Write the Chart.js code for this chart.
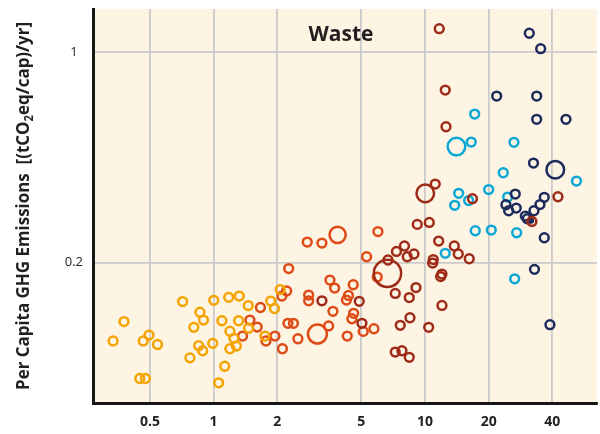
<!DOCTYPE html>
<html lang="en">
<head>
  <meta charset="UTF-8" />
  <title>Waste</title>
  <script src="https://cdn.jsdelivr.net/npm/chart.js"></script>
  <style>
    html, body { margin: 0; padding: 0; background: #fff; }
  </style>
</head>
<body>
  <canvas id="wasteChart" width="600" height="434"></canvas>

  <script>
    // Axis ticks (log scales)
    const xTicks = [0.5, 1, 2, 5, 10, 20, 40];
    const yTicks = [0.2, 1];

    // Per capita income (x) vs per capita waste emissions (y), one pair of arrays per group.
    // Size is relative bubble size (1 = normal marker)
    const yellowGdp = [0.335, 0.377, 0.448, 0.476, 0.465, 0.495, 0.543, 0.714, 0.773, 0.807, 0.850, 0.862, 0.888, 0.896, 0.991, 1.002,
      1.057, 1.095, 1.129, 1.179, 1.195, 1.195, 1.248, 1.283, 1.314, 1.323, 1.459, 1.465, 1.75, 1.864, 1.941, 2.067];
    const yellowEmis = [0.110, 0.1275, 0.0825, 0.0825, 0.110, 0.115, 0.107, 0.1486, 0.0966, 0.122, 0.106, 0.137, 0.102, 0.129, 0.108, 0.150,
      0.0798, 0.1283, 0.0906, 0.1535, 0.1184, 0.1036, 0.1122, 0.1057, 0.1283, 0.155, 0.1441, 0.1212, 0.1141, 0.1492, 0.1409, 0.1629];
    const yellowSize = [1, 1, 1, 1, 1, 1, 1, 1, 1, 1, 1, 1, 1, 1, 1, 1, 1, 1, 1, 1, 1, 1, 1, 1, 1, 1, 1, 1, 1, 1, 1, 1];

    const orangeGdp = [1.372, 1.486, 1.609, 1.666, 1.769, 1.951, 2.117, 2.105, 2.216, 2.266, 2.248, 2.387, 2.506, 2.774, 3.255, 3.862, 2.817,
      2.817, 3.099, 3.501, 3.552, 3.738, 3.67, 4.289, 4.345, 4.251, 4.578, 4.598, 4.513, 5.104, 5.735, 5.295, 5.991, 5.945];
    const orangeEmis = [0.1141, 0.129, 0.1223, 0.142, 0.1099, 0.1141, 0.1036, 0.155, 0.1611, 0.1913, 0.1258, 0.1258, 0.1118, 0.2343, 0.2325,
      0.2477, 0.1562, 0.1495, 0.1159, 0.1233, 0.1752, 0.1648, 0.1379, 0.1141, 0.1558, 0.1503, 0.169, 0.1358, 0.1303, 0.1183, 0.1207, 0.2094,
      0.2539, 0.1792];
    const orangeSize = [1, 1, 1, 1, 1, 1, 1, 1, 1, 1, 1, 1, 1, 1, 1, 1.85, 1, 1, 2.15, 1, 1, 1, 1, 1, 1, 1, 1, 1, 1, 1, 1, 1, 1, 1];

    const redGdp = [3.255, 4.887, 5.032, 6.681, 6.646, 7.234, 7.328, 7.996, 8.244, 8.869, 8.426, 9.066, 8.49, 7.638, 10.41, 7.234, 7.78,
      8.426, 9.194, 10.48, 11.61, 10.94, 10.87, 12.03, 11.86, 12.03, 13.76, 14.37, 16.19, 10.03, 11.18, 16.77, 42.56, 32.06, 11.68, 12.47, 12.57];
    const redEmis = [0.1495, 0.1489, 0.1258, 0.2042, 0.1844, 0.1582, 0.218, 0.2273, 0.2094, 0.2138, 0.1532, 0.1654, 0.1313, 0.1239, 0.122,
      0.101, 0.102, 0.097, 0.2682, 0.2723, 0.236, 0.2049, 0.1995, 0.1834, 0.1799, 0.1443, 0.2273, 0.2138, 0.2062, 0.34, 0.3651, 0.3263,
      0.3313, 0.2744, 1.198, 0.7494, 0.5659];
    const redSize = [1, 1, 1, 1, 3.1, 1, 1, 1, 1, 1, 1, 1, 1, 1, 1, 1, 1, 1, 1, 1, 1, 1, 1, 1, 1, 1, 1, 1, 1, 2.0, 1, 1, 1, 1, 1, 1, 1];

    const cyanGdp = [17.18, 14.09, 16.55, 26.35, 23.45, 52.06, 20.01, 14.43, 13.82, 16.09, 24.6, 17.29, 20.59, 27.14, 12.47, 26.55];
    const cyanEmis = [0.6237, 0.4864, 0.5035, 0.5023, 0.3981, 0.3736, 0.35, 0.34, 0.3102, 0.3218, 0.3305, 0.2554, 0.2568, 0.2516, 0.2149, 0.1769];
    const cyanSize = [1, 2.0, 1, 1, 1, 1, 1, 1, 1, 1, 1, 1, 1, 1, 1, 1];

    const navyGdp = [31.14, 35.25, 21.83, 33.75, 33.75, 46.43, 32.59, 41.33, 26.73, 36.66, 24.15, 27.02, 24.87, 34.98, 32.77, 29.82, 30.48,
      31.73, 36.66, 32.95, 39.0];
    const navyEmis = [1.157, 1.028, 0.7157, 0.7157, 0.5989, 0.5989, 0.4287, 0.4074, 0.3382, 0.3298, 0.3116, 0.3039, 0.2977, 0.3121, 0.2977,
      0.2858, 0.28, 0.2761, 0.2421, 0.1901, 0.1245];
    const navySize = [1, 1, 1, 1, 1, 1, 1, 2.0, 1, 1, 1, 1, 1, 1, 1, 1, 1, 0.45, 1, 1, 1];

    const panelTitle = 'Waste';
    const yTitle = ['Per Capita GHG Emissions  [(tCO', '2', 'eq/cap)/yr]'];

    const BASE_R = 4.4;
    const FONT = '"Open Sans", "Noto Sans", sans-serif';

    function bubbles(xs, ys, sizes) {
      return xs.map((x, i) => ({ x: x, y: ys[i], r: BASE_R * sizes[i] }));
    }

    function series(label, xs, ys, sizes, color) {
      return {
        label: label,
        data: bubbles(xs, ys, sizes),
        borderColor: color,
        backgroundColor: 'rgba(0,0,0,0)',
        borderWidth: 2.5
      };
    }

    // cream panel behind the grid
    const panelBg = {
      id: 'panelBg',
      beforeDraw(chart) {
        const { ctx, chartArea: a } = chart;
        ctx.save();
        ctx.fillStyle = '#fdf4e3';
        ctx.fillRect(a.left, a.top, a.right - a.left, a.bottom - a.top);
        ctx.restore();
      }
    };

    // panel name and rotated y title (with subscript 2)
    const labels = {
      id: 'labels',
      afterDraw(chart) {
        const { ctx, chartArea: a } = chart;
        ctx.save();
        ctx.fillStyle = '#231f20';
        ctx.textAlign = 'center';
        ctx.textBaseline = 'alphabetic';
        ctx.font = 'bold 21px ' + FONT;
        ctx.fillText(panelTitle, 341, 41);
        ctx.restore();

        const big = 'bold 18px ' + FONT, small = 'bold 12px ' + FONT;
        ctx.save();
        ctx.font = big;
        const w1 = ctx.measureText(yTitle[0]).width;
        const w3 = ctx.measureText(yTitle[2]).width;
        ctx.font = small;
        const w2 = ctx.measureText(yTitle[1]).width;
        const total = w1 + w2 + w3;
        const sx = Math.min(1, 368 / total);
        ctx.translate(29, (a.top + a.bottom) / 2);
        ctx.rotate(-Math.PI / 2);
        ctx.scale(sx, 1);
        ctx.fillStyle = '#231f20';
        ctx.textAlign = 'left';
        ctx.textBaseline = 'alphabetic';
        let x = -total / 2;
        ctx.font = big; ctx.fillText(yTitle[0], x, 0); x += w1;
        ctx.font = small; ctx.fillText(yTitle[1], x, 4); x += w2;
        ctx.font = big; ctx.fillText(yTitle[2], x, 0);
        ctx.restore();
      }
    };

    const ctx = document.getElementById('wasteChart').getContext('2d');
    new Chart(ctx, {
      type: 'bubble',
      data: {
        datasets: [
          series('Yellow', yellowGdp, yellowEmis, yellowSize, '#f5a300'),
          series('Dark red', redGdp, redEmis, redSize, '#9e2a17'),
          series('Navy', navyGdp, navyEmis, navySize, '#1d2b5c'),
          series('Cyan', cyanGdp, cyanEmis, cyanSize, '#08a7d6'),
          series('Orange', orangeGdp, orangeEmis, orangeSize, '#de4b16')
        ]
      },
      options: {
        responsive: false,
        animation: false,
        layout: { autoPadding: false, padding: { top: 9, right: 3, left: 0, bottom: 0 } },
        plugins: {
          legend: { display: false },
          tooltip: { enabled: false }
        },
        scales: {
          x: {
            type: 'logarithmic',
            min: 0.269,
            max: 65.1,
            afterBuildTicks: s => { s.ticks = xTicks.map(v => ({ value: v })); },
            afterFit: s => {
              s.height = 31;
              s.paddingLeft = 0; s.paddingRight = 0; s.paddingTop = 0; s.paddingBottom = 0;
            },
            grid: { color: '#cbcbcb', lineWidth: 1.8, drawTicks: false },
            border: { display: true, color: '#161616', width: 3 },
            ticks: {
              padding: 11,
              color: '#231f20',
              font: { family: FONT, size: 14, weight: 'bold' },
              callback: v => String(v)
            }
          },
          y: {
            type: 'logarithmic',
            min: 0.0684,
            max: 1.393,
            afterBuildTicks: s => { s.ticks = yTicks.map(v => ({ value: v })); },
            afterFit: s => {
              s.width = 93;
              s.paddingLeft = 0; s.paddingRight = 0; s.paddingTop = 0; s.paddingBottom = 0;
            },
            grid: { color: '#cbcbcb', lineWidth: 1.8, drawTicks: false },
            border: { display: true, color: '#161616', width: 3 },
            ticks: {
              padding: 10,
              crossAlign: 'center',
              color: '#231f20',
              font: { family: FONT, size: 13 },
              callback: v => String(v)
            }
          }
        }
      },
      plugins: [panelBg, labels]
    });
  </script>
</body>
</html>
